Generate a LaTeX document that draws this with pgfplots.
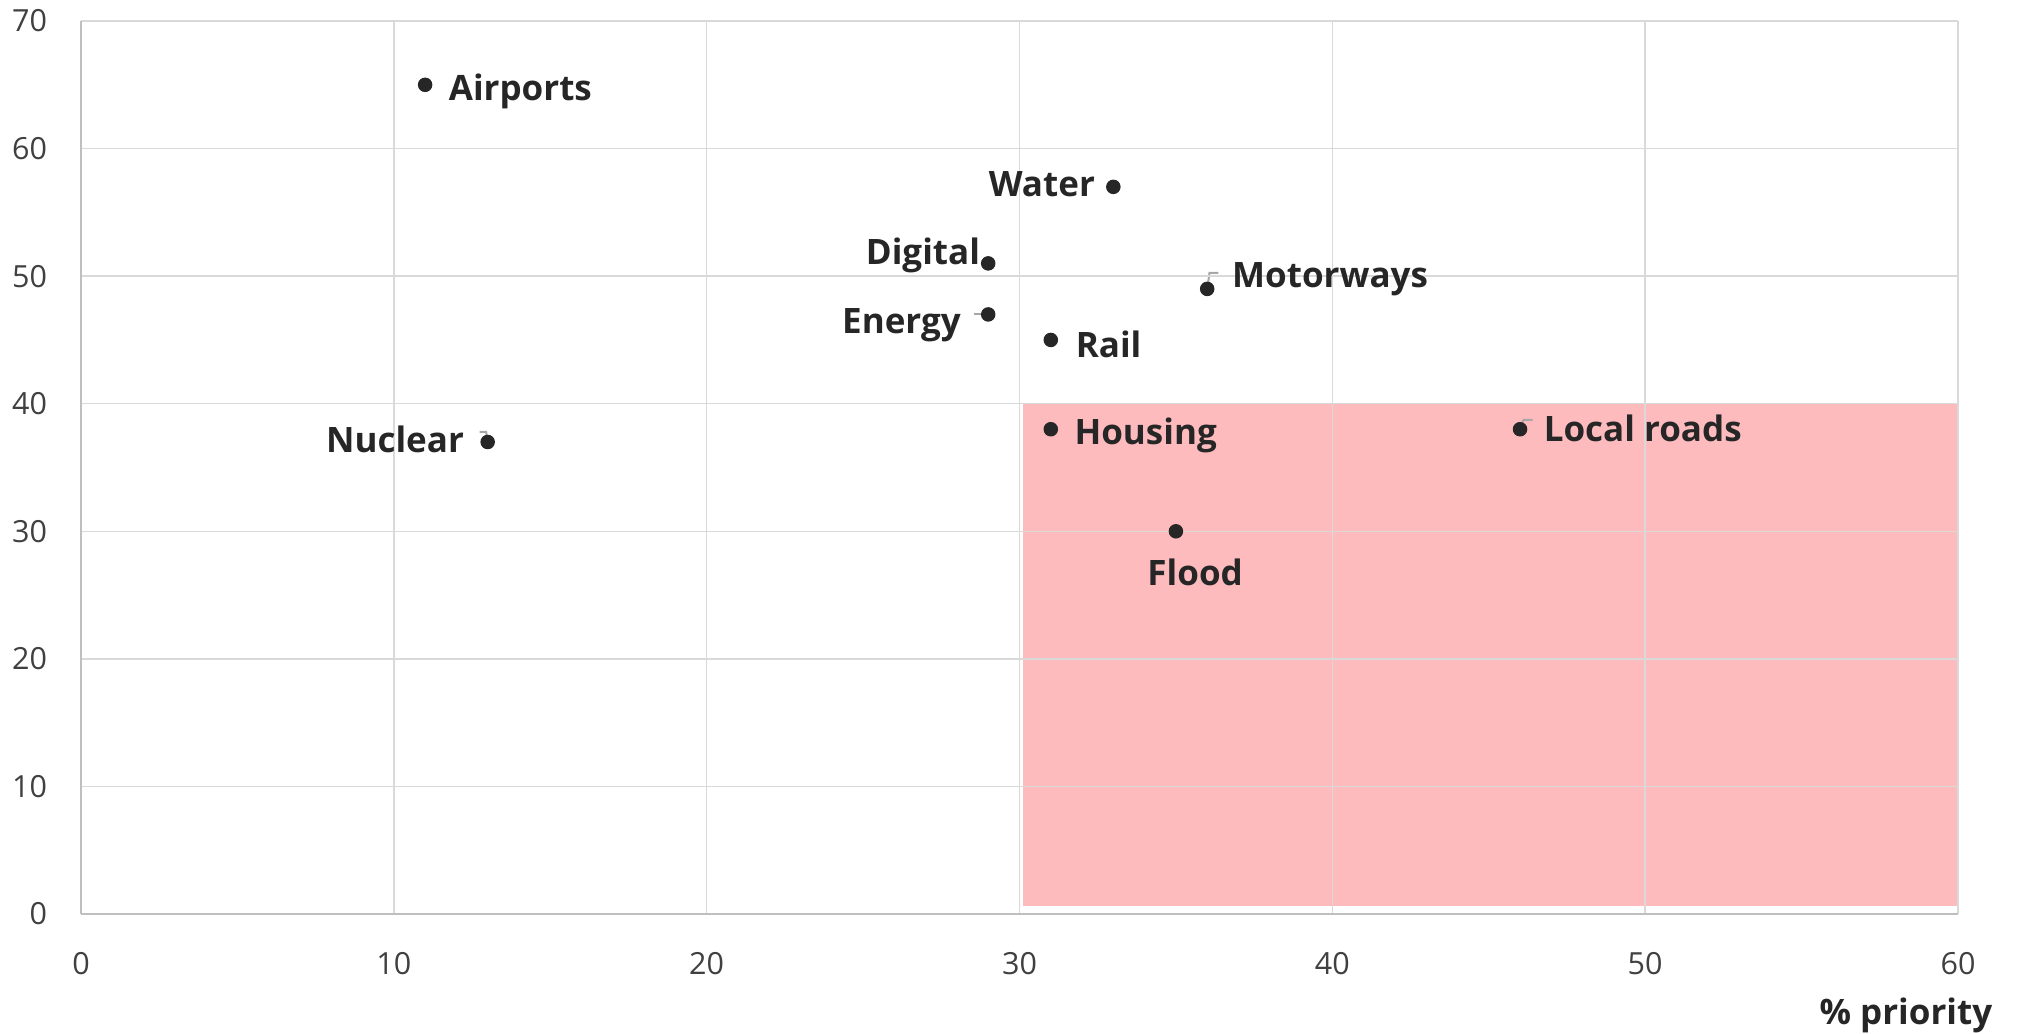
\documentclass[border=0pt]{standalone}
\usepackage{fontspec}
\setmainfont{Open Sans}
\usepackage{pgfplots}
\pgfplotsset{compat=1.18}
\definecolor{txt}{HTML}{262626}
\definecolor{tick}{HTML}{404040}
\definecolor{gridc}{HTML}{D9D9D9}
\definecolor{axc}{HTML}{BFBFBF}
\definecolor{pinkc}{HTML}{FDBBBE}
\definecolor{lead}{HTML}{A6A6A6}

\pgfplotsset{
  pt/.style n args={3}{only marks, mark=*, mark size=2.7pt,
    mark options={fill=txt, draw=txt},
    nodes near coords={#1},
    nodes near coords style={anchor=#2, #3, inner sep=0pt,
      font=\fontsize{14}{16}\selectfont\bfseries, text=txt}},
}

\begin{document}
\begin{tikzpicture}
\useasboundingbox (-32.4pt,-47.6pt) rectangle (775.2pt,365.6pt);
\begin{axis}[
  axis on top,
  scale only axis,
  anchor=south west, at={(0,0)},
  width=750.8pt, height=357.2pt,
  xmin=0, xmax=60, ymin=0, ymax=70,
  xtick={0,10,...,60}, ytick={0,10,...,70},
  /pgf/number format/assume math mode=true,
  grid=major,
  grid style={gridc, line width=0.6pt},
  axis x line*=bottom, axis y line*=left,
  axis line style={axc, line width=0.8pt},
  tickwidth=0pt,
  tick label style={font=\fontsize{12.2}{14}\selectfont, text=tick},
  x tick label style={anchor=center, inner sep=0pt, yshift=-19.8pt},
  y tick label style={anchor=east, inner sep=0pt, xshift=-13.4pt},
  xlabel={\% priority},
  xlabel style={at={(rel axis cs:1,0)}, anchor=east, inner sep=0pt,
    xshift=13.9pt, yshift=-40.6pt,
    font=\fontsize{14}{16}\selectfont\bfseries, text=txt},
  clip=false,
]
\addplot[fill=pinkc, draw=none]
  coordinates {(30.1,0.6) (60,0.6) (60,40) (30.1,40)} -- cycle;

\addplot[pt={Airports}{west}{xshift=9.3pt, yshift=-2.5pt}] coordinates {(11,65)};
\addplot[pt={Water}{east}{xshift=-7.2pt, yshift=1.2pt}] coordinates {(33,57)};
\addplot[pt={Digital}{east}{xshift=-3.1pt, yshift=3.3pt}] coordinates {(29,51)};
\addplot[pt={Motorways}{west}{xshift=9.8pt, yshift=3.8pt}] coordinates {(36,49)};
\addplot[pt={Energy}{east}{xshift=-10.8pt, yshift=-4.4pt}] coordinates {(29,47)};
\addplot[pt={Rail}{west}{xshift=9.8pt, yshift=-1.6pt}] coordinates {(31,45)};
\addplot[pt={Nuclear}{east}{xshift=-9.3pt, yshift=1.2pt}] coordinates {(13,37)};
\addplot[pt={Housing}{west}{xshift=9.3pt, yshift=-2.3pt}] coordinates {(31,38)};
\addplot[pt={Local roads}{west}{xshift=9.3pt, yshift=0.2pt}] coordinates {(46,38)};
\addplot[pt={Flood}{center}{xshift=7.7pt, yshift=-16.3pt}] coordinates {(35,30)};

% leader lines
\draw[lead, line width=0.8pt] (axis cs:36,49) ++(0.3pt,2pt) -- ++(0.6pt,4.4pt) -- ++(3.6pt,0);
\draw[lead, line width=0.8pt] (axis cs:46,38) ++(0.4pt,1.5pt) -- ++(1pt,2.2pt) -- ++(3.6pt,0);
\draw[lead, line width=0.8pt] (axis cs:13,37) ++(-0.3pt,2pt) -- ++(-0.3pt,2pt) -- ++(-2.6pt,0);
\draw[lead, line width=0.8pt] (axis cs:29,47) ++(-2pt,0pt) -- ++(-3.5pt,0);
\end{axis}
\end{tikzpicture}
\end{document}
